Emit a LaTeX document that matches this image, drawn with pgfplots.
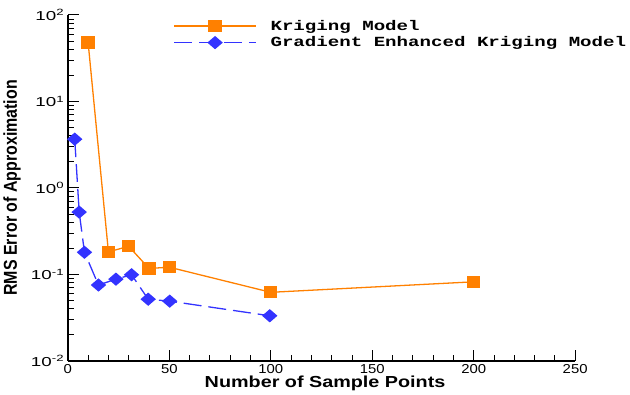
\documentclass[border=0pt]{standalone}
\usepackage{fontspec}
\setmainfont{Liberation Sans}
\newfontfamily\legfont{Liberation Mono}
\usepackage{pgfplots}
\pgfplotsset{compat=1.18}
\definecolor{kor}{RGB}{255,128,0}
\definecolor{gblue}{RGB}{51,51,255}
\begin{document}
\begin{tikzpicture}
\begin{axis}[
  name=ax,
  scale only axis,
  width=509pt, height=347pt,
  ymode=log, log basis y=10,
  xmin=0, xmax=250, ymin=0.01, ymax=100,
  axis lines=left,
  axis line style={-, line width=1.4pt},
  major tick style={black, line width=1.1pt},
  minor tick style={black, line width=0.8pt},
  tick align=inside,
  major tick length=11pt, minor tick length=6pt,
  xtick={0,50,100,150,200,250},
  minor x tick num=4,
  xticklabels={{\scalebox{1.15}[1]{0}},{\scalebox{1.15}[1]{50}},{\scalebox{1.15}[1]{100}},{\scalebox{1.15}[1]{150}},{\scalebox{1.15}[1]{200}},{\scalebox{1.15}[1]{250}}},
  ytick={0.01,0.1,1,10,100},
  minor ytick={0.02,0.03,0.04,0.05,0.06,0.07,0.08,0.09,0.2,0.3,0.4,0.5,0.6,0.7,0.8,0.9,2,3,4,5,6,7,8,9,20,30,40,50,60,70,80,90},
  yticklabels={{\scalebox{1.45}[1]{10\textsuperscript{-2}}},{\scalebox{1.45}[1]{10\textsuperscript{-1}}},{\scalebox{1.45}[1]{10\textsuperscript{0}}},{\scalebox{1.45}[1]{10\textsuperscript{1}}},{\scalebox{1.45}[1]{10\textsuperscript{2}}}},
  ticklabel style={font=\fontsize{13}{13}\selectfont},
  xlabel={\scalebox{1.24}[1]{Number of Sample Points}},
  ylabel={\scalebox{1}[1.17]{RMS Error of Approximation}},
  label style={font=\fontsize{16}{16}\selectfont\bfseries},
  xlabel style={at={(axis description cs:0.507,-0.066)}, anchor=center},
  ylabel style={at={(axis description cs:-0.110,0.5)}, anchor=center},
  legend style={draw=none, fill=none, inner sep=0pt,
    at={(axis description cs:0.208,0.944)}, anchor=west,
    font=\fontsize{14}{14}\selectfont\legfont\bfseries,
    row sep=3pt, nodes={inner sep=1pt},
    /tikz/every odd column/.append style={column sep=13pt}},
  legend cell align=left,
  legend image code/.code={\draw[mark repeat=2, mark phase=2] plot coordinates {(0pt,0pt) (41pt,0pt) (82pt,0pt)};},
]
\addplot[kor, line width=1.3pt, mark=square*, mark size=5.5pt, mark options={solid, xscale=1.1}]
  coordinates {(10,48) (20,0.182) (30,0.211) (40,0.117) (50,0.121) (100,0.062) (200,0.082)};
\addlegendentry{\scalebox{1.37}[1]{Kriging Model}}
\addplot[gblue, line width=1.3pt, dash pattern=on 18pt off 7pt, mark=diamond*, mark size=5.8pt, mark options={solid, xscale=1.55}]
  coordinates {(3.4,3.66) (5.6,0.525) (8.2,0.18) (15.1,0.0753) (23.7,0.088) (31.4,0.099) (39.6,0.0516) (50.2,0.049) (99.5,0.0332)};
\addlegendentry{\scalebox{1.37}[1]{Gradient Enhanced Kriging Model}}
\end{axis}
\path ([xshift=-66pt,yshift=-34pt]ax.south west) rectangle ([xshift=55pt,yshift=15pt]ax.north east);
\end{tikzpicture}
\end{document}
